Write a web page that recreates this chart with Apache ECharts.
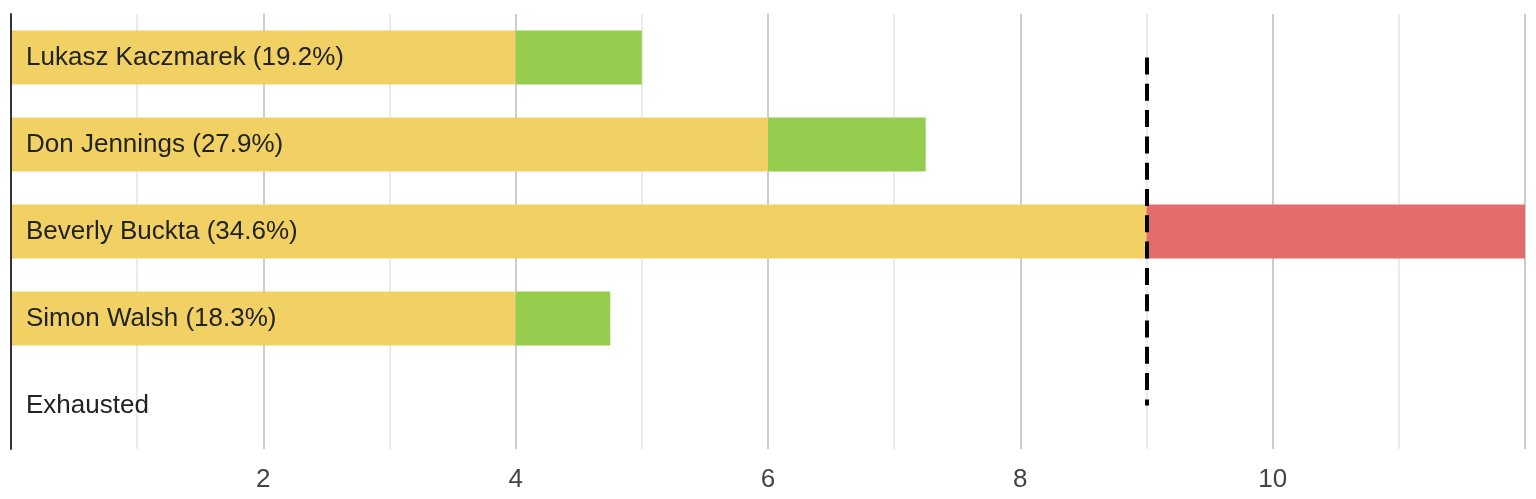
<!DOCTYPE html>
<html><head><meta charset="utf-8">
<script src="https://cdn.jsdelivr.net/npm/echarts@6/dist/echarts.min.js"></script>
<style>html,body{margin:0;padding:0;background:#fff}#c{width:1536px;height:499px}</style>
</head><body><div id="c"></div>
<script>
const candidates = ['Lukasz Kaczmarek','Don Jennings','Beverly Buckta','Simon Walsh','Exhausted'];
const shares = ['19.2%','27.9%','34.6%','18.3%',''];
const firstRound = [4,6,9,4,0];
const transferred = [1,1.25,0,0.75,0];
const surplus = [0,0,3,0,0];
const threshold = 9;
const xTickLabels = ['','','2','','4','','6','','8','','10','',''];

const labelMap = {};
candidates.forEach((c,i)=>{ labelMap[c] = shares[i] ? c + ' (' + shares[i] + ')' : c; });

const chart = echarts.init(document.getElementById('c'));
chart.setOption({
  animation:false,
  grid:{left:11,right:11,top:14,bottom:50,containLabel:false},
  xAxis:{type:'value',min:0,max:12,interval:1,
    axisLine:{show:false},axisTick:{show:false},
    axisLabel:{formatter:(v)=>xTickLabels[Math.round(v)]||'',color:'#444',fontSize:26,fontFamily:'Liberation Sans',margin:18},
    splitLine:{show:true,lineStyle:{color:['#cccccc','#ebebeb'],width:2}}},
  yAxis:{type:'category',data:candidates,inverse:true,z:10,
    axisLine:{show:true,lineStyle:{color:'#333',width:2}},axisTick:{show:false},
    axisLabel:{inside:true,formatter:(v)=>labelMap[v],color:'#222',fontSize:26,fontFamily:'Liberation Sans',margin:15,padding:[4,0,0,0]}},
  series:[
    {type:'bar',stack:'t',data:firstRound,barWidth:54,itemStyle:{color:'#f2d164'},
      markLine:{silent:true,symbol:'none',label:{show:false},
        lineStyle:{color:'#000',type:[17,9.3],width:4},
        data:[[{coord:[threshold,candidates[0]]},{coord:[threshold,candidates[candidates.length-1]]}]]}},
    {type:'bar',stack:'t',data:transferred,barWidth:54,itemStyle:{color:'#97cd4f'}},
    {type:'bar',stack:'t',data:surplus,barWidth:54,itemStyle:{color:'#e26d6a'}}
  ]
});
</script></body></html>
